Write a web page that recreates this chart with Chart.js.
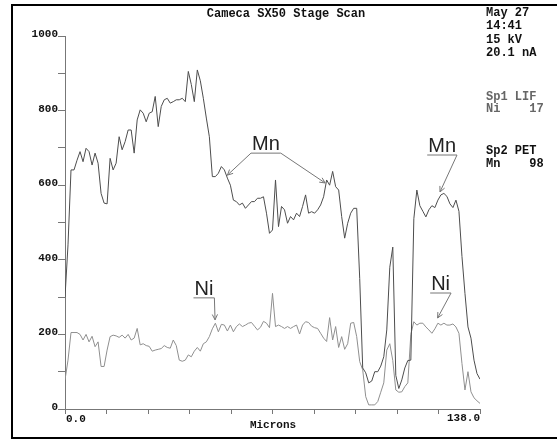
<!DOCTYPE html>
<html>
<head>
<meta charset="utf-8">
<title>Cameca SX50 Stage Scan</title>
<script src="https://cdn.jsdelivr.net/npm/chart.js@4.4.1/dist/chart.umd.min.js"></script>
<style>
  body { margin: 0; background: #fff; }
  canvas { display: block; }
</style>
</head>
<body>
<canvas id="scanChart" width="557" height="441"></canvas>
<script>
// counts, one value per micron (0 .. 138)
const mnCounts = [
  300, 440, 641, 641, 667, 690, 663, 699, 690, 654,
  686, 659, 578, 552, 550, 672, 641, 659, 730, 695,
  717, 748, 748, 686, 775, 802, 793, 770, 793, 797,
  838, 757, 811, 829, 833, 820, 824, 829, 829, 833,
  824, 905, 870, 824, 909, 880, 833, 780, 730, 623,
  623, 632, 650, 641, 619, 600, 560, 556, 547, 552,
  538, 547, 556, 556, 565, 565, 569, 525, 471, 480,
  614, 489, 543, 534, 498, 516, 507, 525, 516, 543,
  574, 525, 529, 525, 534, 547, 569, 614, 600, 637,
  596, 587, 516, 458, 498, 525, 538, 538, 350, 110,
  97, 70, 75, 100, 100, 115, 140, 212, 380, 434,
  90, 55, 78, 110, 130, 131, 510, 587, 545, 530,
  515, 534, 545, 540, 560, 574, 578, 570, 550, 540,
  560, 530, 409, 310, 220, 190, 131, 95, 80
];
const niCounts = [
  78, 131, 205, 205, 205, 200, 185, 200, 180, 195,
  167, 180, 114, 114, 158, 194, 198, 196, 192, 198,
  190, 200, 185, 190, 216, 172, 175, 170, 168, 155,
  158, 160, 162, 170, 165, 163, 185, 170, 131, 128,
  131, 145, 140, 155, 165, 155, 175, 180, 194, 215,
  230, 207, 227, 225, 209, 225, 207, 221, 228, 221,
  225, 230, 232, 222, 212, 219, 235, 230, 218, 310,
  221, 225, 221, 216, 221, 216, 221, 225, 201, 225,
  234, 232, 222, 218, 216, 203, 190, 181, 245, 185,
  221, 165, 194, 160, 175, 230, 232, 194, 127, 105,
  33, 11, 11, 11, 20, 45, 70, 158, 175, 130,
  51, 45, 46, 60, 70, 200, 234, 225, 230, 230,
  220, 212, 203, 215, 230, 225, 230, 225, 225, 228,
  220, 203, 122, 51, 100, 46, 30, 22, 15
];

const xTicks = [0, 13.8, 27.6, 41.4, 55.2, 69, 82.8, 96.6, 110.4, 124.2, 138];
const xTickLabels = ['0.0', '138.0'];
const yTicks = [0, 100, 200, 300, 400, 500, 600, 700, 800, 900, 1000];
const yTickLabels = [0, 200, 400, 600, 800, 1000];

const titleText = 'Cameca SX50 Stage Scan';
const xTitle = 'Microns';
const runInfo = ['May 27', '14:41', '15 kV', '20.1 nA'];
const sp1Info = ['Sp1 LIF', 'Ni    17'];
const sp2Info = ['Sp2 PET', 'Mn    98'];

// peak labels: where the word sits and what it points at (microns, counts)
const peakLabels = [
  { text: 'Mn', at: [66.8, 694], to: [[54, 627], [86.5, 606]] },
  { text: 'Mn', at: [125.4, 689], to: [[124.7, 582]] },
  { text: 'Ni', at: [46.2, 306], to: [[49.9, 239]] },
  { text: 'Ni', at: [124.9, 319], to: [[123.9, 244]] }
];

const MONO = '"Liberation Mono", "DejaVu Sans Mono", monospace';

const points = arr => arr.map((v, i) => ({ x: i, y: v }));

function arrowHead(ctx, x1, y1, x2, y2) {
  const a = Math.atan2(y2 - y1, x2 - x1);
  const len = 6;
  ctx.beginPath();
  ctx.moveTo(x2 - len * Math.cos(a - 0.45), y2 - len * Math.sin(a - 0.45));
  ctx.lineTo(x2, y2);
  ctx.lineTo(x2 - len * Math.cos(a + 0.45), y2 - len * Math.sin(a + 0.45));
  ctx.stroke();
}

const decorations = {
  id: 'decorations',
  afterDraw(chart) {
    const ctx = chart.ctx;
    const xs = chart.scales.x;
    const ys = chart.scales.y;
    ctx.save();

    // outer frame (right side is cut off in the original)
    ctx.strokeStyle = '#000';
    ctx.lineWidth = 2;
    ctx.beginPath();
    ctx.moveTo(557, 5);
    ctx.lineTo(12, 5);
    ctx.lineTo(12, 438);
    ctx.lineTo(557, 438);
    ctx.stroke();

    // title
    ctx.fillStyle = '#111';
    ctx.font = 'bold 12px ' + MONO;
    ctx.textAlign = 'center';
    ctx.textBaseline = 'middle';
    ctx.fillText(titleText, 286, 14);

    // run info block
    ctx.textAlign = 'left';
    runInfo.forEach((t, i) => ctx.fillText(t, 486, 13 + i * 13.3));
    ctx.fillStyle = '#666';
    sp1Info.forEach((t, i) => ctx.fillText(t, 486, 97 + i * 12));
    ctx.fillStyle = '#111';
    sp2Info.forEach((t, i) => ctx.fillText(t, 486, 151 + i * 12.5));

    // y tick labels sit on top of their tick marks
    ctx.font = 'bold 11px ' + MONO;
    ctx.textAlign = 'right';
    ctx.textBaseline = 'alphabetic';
    yTickLabels.forEach(v => {
      ctx.fillText(String(v), xs.left - 7, ys.getPixelForValue(v) + 1);
    });

    // x tick labels and axis title
    ctx.textBaseline = 'middle';
    ctx.textAlign = 'left';
    ctx.fillText(xTickLabels[0], xs.getPixelForValue(xTicks[0]) + 1, 419);
    ctx.textAlign = 'right';
    ctx.fillText(xTickLabels[1], xs.getPixelForValue(xTicks[xTicks.length - 1]), 418);
    ctx.textAlign = 'center';
    ctx.fillText(xTitle, 273, 425);

    // peak labels with leaders
    ctx.font = '20px "Liberation Sans", Arial, sans-serif';
    peakLabels.forEach(p => {
      const cx = xs.getPixelForValue(p.at[0]);
      const by = ys.getPixelForValue(p.at[1]);
      ctx.fillStyle = '#222';
      ctx.textAlign = 'center';
      ctx.textBaseline = 'alphabetic';
      ctx.fillText(p.text, cx, by);
      const w = ctx.measureText(p.text).width;
      const uy = by + 3;
      const left = cx - w / 2 - 1;
      const right = cx + w / 2 + 1;
      ctx.strokeStyle = '#777';
      ctx.lineWidth = 1;
      ctx.beginPath();
      ctx.moveTo(left, uy);
      ctx.lineTo(right, uy);
      ctx.stroke();
      p.to.forEach((t, i) => {
        const sx = (p.to.length > 1 && i === 0) ? left : right;
        const tx = xs.getPixelForValue(t[0]);
        const ty = ys.getPixelForValue(t[1]);
        ctx.beginPath();
        ctx.moveTo(sx, uy);
        ctx.lineTo(tx, ty);
        ctx.stroke();
        arrowHead(ctx, sx, uy, tx, ty);
      });
    });

    ctx.restore();
  }
};

new Chart(document.getElementById('scanChart'), {
  type: 'line',
  data: {
    datasets: [
      {
        label: 'Mn',
        data: points(mnCounts),
        borderColor: '#4d4d4d',
        borderWidth: 1,
        pointRadius: 0,
        tension: 0
      },
      {
        label: 'Ni',
        data: points(niCounts),
        borderColor: '#8f8f8f',
        borderWidth: 1,
        pointRadius: 0,
        tension: 0
      }
    ]
  },
  options: {
    responsive: false,
    animation: false,
    events: [],
    layout: { padding: { top: 36, right: 77, left: 0, bottom: 0 } },
    plugins: {
      legend: { display: false },
      tooltip: { enabled: false },
      title: { display: false }
    },
    scales: {
      x: {
        type: 'linear',
        min: 0,
        max: 138,
        afterBuildTicks: s => { s.ticks = xTicks.map(v => ({ value: v })); },
        afterFit: s => { s.height = 32; },
        ticks: { display: false, autoSkip: false },
        grid: { drawOnChartArea: false, drawTicks: true, tickLength: 5, color: '#777' },
        border: { display: true, color: '#777', width: 1 }
      },
      y: {
        type: 'linear',
        min: 0,
        max: 1000,
        afterBuildTicks: s => { s.ticks = yTicks.map(v => ({ value: v })); },
        afterFit: s => { s.width = 65; },
        ticks: { display: false, autoSkip: false },
        grid: { drawOnChartArea: false, drawTicks: true, tickLength: 7, color: '#777' },
        border: { display: true, color: '#777', width: 1 }
      }
    }
  },
  plugins: [decorations]
});
</script>
</body>
</html>
